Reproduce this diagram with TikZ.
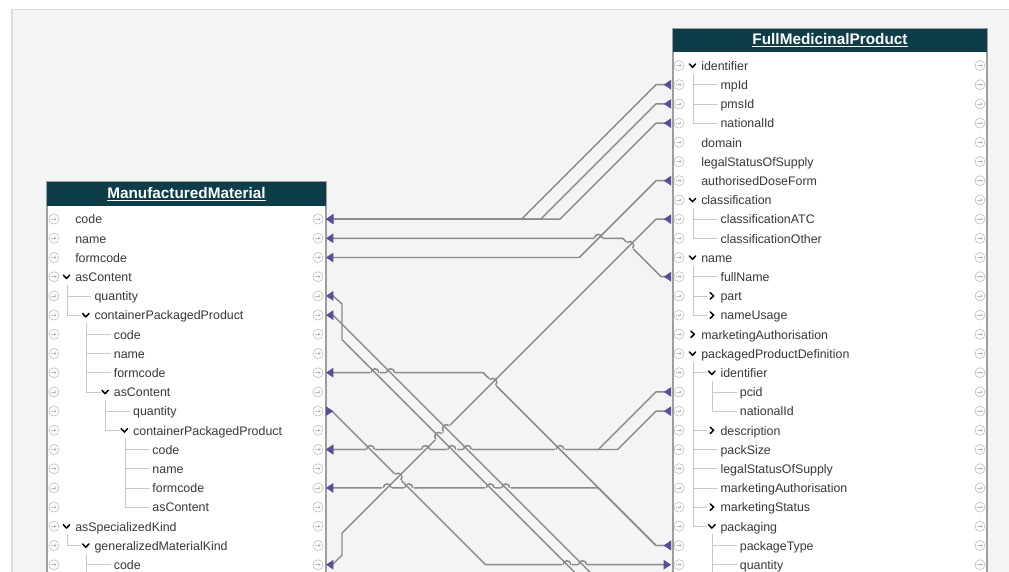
\documentclass[tikz,border=0pt]{standalone}
\usepackage{fontspec}
\setmainfont{Liberation Sans}
\usetikzlibrary{arrows.meta}
\definecolor{panelgray}{HTML}{F4F4F4}
\definecolor{paneledge}{HTML}{DCDCDC}
\definecolor{headteal}{HTML}{0E3D4A}
\definecolor{tableedge}{HTML}{9E9E9E}
\definecolor{txtgray}{HTML}{383838}
\definecolor{treegray}{HTML}{C8C8C8}
\definecolor{portgray}{HTML}{BDBDBD}
\definecolor{linkgray}{HTML}{8A8A8A}
\definecolor{linkpurple}{HTML}{5A4E9A}
\newcommand\rowy[1]{65.5+19.2*#1}
\tikzset{
  row text/.style={anchor=west, inner sep=0pt, text height=6.6pt, text depth=1.6pt,
    yshift=-1.1pt, font=\fontsize{9.3}{11}\selectfont, text=txtgray},
  title text/.style={font=\fontsize{11.5}{13}\selectfont\bfseries, text=white},
  port/.style={circle, draw=portgray, line width=0.45pt, fill=white, minimum size=7.5pt,
    inner sep=0pt, outer sep=2.2pt,
    path picture={\draw[portgray, line width=0.45pt, -{Stealth[length=1.7pt,width=2.8pt]}]
      ([xshift=-2pt]path picture bounding box.center) -- ([xshift=2pt]path picture bounding box.center);}},
  tree line/.style={draw=treegray, line width=0.6pt},
  link line/.style={draw=linkgray, line width=1.1pt},
  link/.style={link line,
    arrows={Triangle[reversed,length=5.5pt,width=7pt,color=linkpurple]-Triangle[length=5.5pt,width=7pt,color=linkpurple]}},
  hop/.pic={\fill[panelgray] (-4.8,-1.4) rectangle (4.8,1.4);
    \draw[link line] (-4,0) arc (180:360:4);},
  chev/.style={line width=1.1pt, line cap=round, line join=round},
  chevdown/.pic={\draw[chev] (-3.2,-1.6) -- (0,1.8) -- (3.2,-1.6);},
  chevright/.pic={\draw[chev] (-1.6,-3.2) -- (1.8,0) -- (-1.6,3.2);},
}
\begin{document}
\begin{tikzpicture}[x=0.75pt, y=-0.75pt]
  \useasboundingbox (0,0) rectangle (1009,571);
  \clip (0,0) rectangle (1009,571);
  \fill[panelgray] (12,10) rectangle (1012,575);
  \draw[paneledge, line width=0.8pt] (12,575) -- (12,9.5) -- (1012,9.5);

  % ManufacturedMaterial
  \draw[tableedge, fill=white, line width=0.8pt] (47,182) rectangle (326,590);
  \fill[headteal] (47,182) rectangle (326,206);
  \node[title text] (mmtitle) at (186.5,194) {\underline{ManufacturedMaterial}};

  % FullMedicinalProduct
  \draw[tableedge, fill=white, line width=0.8pt] (673,29) rectangle (987,590);
  \fill[headteal] (673,29) rectangle (987,52);
  \node[title text] (fmptitle) at (830,40.5) {\underline{FullMedicinalProduct}};

  % tree lines
  \draw[tree line] (67,{\rowy{11}+8}) -- (67,{\rowy{13}}) -- (81.3,{\rowy{13}})
    (67,{\rowy{12}}) -- (91.3,{\rowy{12}});
  \draw[tree line] (86.3,{\rowy{13}+8}) -- (86.3,{\rowy{17}}) -- (100.6,{\rowy{17}});
  \foreach \r in {14,15,16} \draw[tree line] (86.3,{\rowy{\r}}) -- (110.6,{\rowy{\r}});
  \draw[tree line] (105.6,{\rowy{17}+8}) -- (105.6,{\rowy{19}}) -- (119.9,{\rowy{19}})
    (105.6,{\rowy{18}}) -- (129.9,{\rowy{18}});
  \draw[tree line] (124.9,{\rowy{19}+8}) -- (124.9,{\rowy{23}});
  \foreach \r in {20,...,23} \draw[tree line] (124.9,{\rowy{\r}}) -- (149.2,{\rowy{\r}});
  \draw[tree line] (67,{\rowy{24}+8}) -- (67,{\rowy{25}}) -- (81.3,{\rowy{25}});
  \draw[tree line] (86.3,{\rowy{25}+8}) -- (86.3,590) (86.3,{\rowy{26}}) -- (110.6,{\rowy{26}});

  \draw[tree line] (693,{\rowy{0}+8}) -- (693,{\rowy{3}});
  \foreach \r in {1,2,3,8,9,11,20,21,22} \draw[tree line] (693,{\rowy{\r}}) -- (717.3,{\rowy{\r}});
  \draw[tree line] (693,{\rowy{7}+8}) -- (693,{\rowy{9}});
  \draw[tree line] (693,{\rowy{10}+8}) -- (693,{\rowy{13}});
  \draw[tree line] (693,{\rowy{15}+8}) -- (693,{\rowy{24}});
  \foreach \r in {12,13,16,19,23,24} \draw[tree line] (693,{\rowy{\r}}) -- (707.3,{\rowy{\r}});
  \draw[tree line] (712.3,{\rowy{16}+8}) -- (712.3,{\rowy{18}});
  \draw[tree line] (712.3,{\rowy{24}+8}) -- (712.3,590);
  \foreach \r in {17,18,25,26} \draw[tree line] (712.3,{\rowy{\r}}) -- (736.6,{\rowy{\r}});

  % rows
  \foreach \r/\lv/\txt in {8/0/code, 9/0/name, 10/0/formcode, 11/0/asContent, 12/1/quantity,
      13/1/containerPackagedProduct, 14/2/code, 15/2/name, 16/2/formcode, 17/2/asContent,
      18/3/quantity, 19/3/containerPackagedProduct, 20/4/code, 21/4/name, 22/4/formcode,
      23/4/asContent, 24/0/asSpecializedKind, 25/1/generalizedMaterialKind, 26/2/code}
    \node[row text] (mm\r) at ({75+19.3*\lv},{\rowy{\r}}) {\txt};
  \foreach \r/\lv in {11/0, 13/1, 17/2, 19/3, 24/0, 25/1}
    \pic at ({66.5+19.3*\lv},{\rowy{\r}}) {chevdown};

  \foreach \r/\lv/\txt in {0/0/identifier, 1/1/mpId, 2/1/pmsId, 3/1/nationalId, 4/0/domain,
      5/0/legalStatusOfSupply, 6/0/authorisedDoseForm, 7/0/classification, 8/1/classificationATC,
      9/1/classificationOther, 10/0/name, 11/1/fullName, 12/1/part, 13/1/nameUsage,
      14/0/marketingAuthorisation, 15/0/packagedProductDefinition, 16/1/identifier, 17/2/pcid,
      18/2/nationalId, 19/1/description, 20/1/packSize, 21/1/legalStatusOfSupply,
      22/1/marketingAuthorisation, 23/1/marketingStatus, 24/1/packaging, 25/2/packageType,
      26/2/quantity}
    \node[row text] (fmp\r) at ({701+19.3*\lv},{\rowy{\r}}) {\txt};
  \foreach \r/\lv in {0/0, 7/0, 10/0, 15/0, 16/1, 24/1}
    \pic at ({692.5+19.3*\lv},{\rowy{\r}}) {chevdown};
  \foreach \r/\lv in {12/1, 13/1, 14/0, 19/1, 23/1}
    \pic at ({692.5+19.3*\lv},{\rowy{\r}}) {chevright};

  % ports
  \foreach \r in {8,...,26} {
    \node[port] (mmin\r) at (54,{\rowy{\r}}) {};
    \node[port] (mmout\r) at (318,{\rowy{\r}}) {};
  }
  \foreach \r in {0,...,26} {
    \node[port] (fmpin\r) at (679,{\rowy{\r}}) {};
    \node[port] (fmpout\r) at (980,{\rowy{\r}}) {};
  }

  % mappings (a line that jumps is drawn before the one it jumps over)
  \draw[link] (fmpin11) -- ++(-18,0) -- ++(-38.4,-38.4) -- (mmout9);
  \foreach \x/\y/\a in {598.4/238.3/0, 629.7/245.4/-45} \pic[rotate=\a] at (\x,\y) {hop};
  \draw[link] (fmpin17) -- ++(-23,0) -- ++(-57.6,57.6) -- (mmout20);
  \draw[link] (fmpin18) -- ++(-23,0) -- ++(-38.4,38.4) -- (mmout20);
  \foreach \x in {370.4, 425.6, 451.8, 467.4, 560} \pic at (\x,{\rowy{20}}) {hop};
  \draw[link] (fmpin25) -- ++(-23,0) -- ++(-57.6,-57.6) -- (mmout22);
  \foreach \x in {387.2, 408.8, 490.2, 505.8} \pic at (\x,{\rowy{22}}) {hop};
  \draw[link] (fmpin25) -- ++(-23,0) -- ++(-172.8,-172.8) -- (mmout16);
  \foreach \x/\y/\a in {375/372.7/0, 390.6/372.7/0, 492.8/382.3/-45} \pic[rotate=\a] at (\x,\y) {hop};
  \draw[link] (mmout18) -- ++(14,0) -- ++(153.6,153.6) -- (fmpin26);
  \foreach \x/\y/\a in {567/564.7/0, 582.6/564.7/0, 398/477.1/-45} \pic[rotate=\a] at (\x,\y) {hop};
  \draw[link] (fmpin8) -- ++(-23,0) -- ++(-314,314) -- ++(0,22) -- ++(-9.6,9.6) -- (mmout26);
  \foreach \x/\y in {438.7/436.4, 446.5/428.6} \pic[rotate=45] at (\x,\y) {hop};
  \draw[link] (fmpin6) -- ++(-23,0) -- ++(-76.8,76.8) -- (mmout10);
  \draw[link] (fmpin1) -- ++(-23,0) -- ++(-134.4,134.4) -- (mmout8);
  \draw[link] (fmpin2) -- ++(-23,0) -- ++(-115.2,115.2) -- (mmout8);
  \draw[link] (fmpin3) -- ++(-23,0) -- ++(-96,96) -- (mmout8);
  \coordinate (offq) at (602.3,600);
  \coordinate (offc) at (617.9,600);
  \draw[link] (offq) -- ++(-260.3,-260.3) -- ++(0,-35.8) -- ++(-9,-8) -- (mmout12);
  \draw[link] (offc) -- ++(-284.9,-284.9) -- (mmout13);
\end{tikzpicture}
\end{document}
